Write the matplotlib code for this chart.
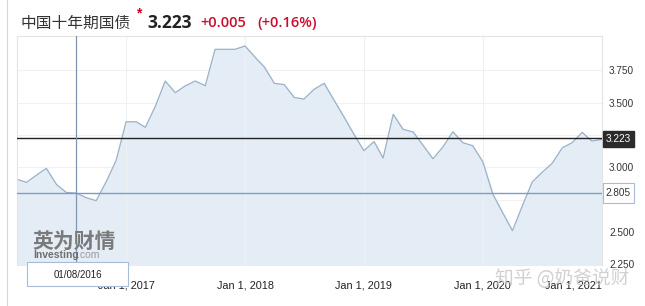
import matplotlib
matplotlib.use('Agg')
import matplotlib.pyplot as plt
import pandas as pd
from matplotlib.patches import Rectangle

# Monthly China 10Y government bond yield (Feb 2016 - Jan 2021)
start_month = '2016-02-01'
yields = [2.907, 2.884, 2.94, 2.992, 2.868, 2.806, 2.801, 2.765, 2.742, 2.89,
          3.052, 3.352, 3.352, 3.309, 3.474, 3.667, 3.577, 3.629, 3.667, 3.631,
          3.912, 3.912, 3.912, 3.938, 3.851, 3.776, 3.649, 3.640, 3.540, 3.528,
          3.603, 3.649, 3.520, 3.389, 3.257, 3.128, 3.199, 3.072, 3.410, 3.294,
          3.273, 3.172, 3.066, 3.159, 3.275, 3.190, 3.167, 3.043, 2.791, 2.654,
          2.510, 2.700, 2.888, 2.961, 3.031, 3.151, 3.190, 3.270, 3.203, 3.216]
tick_years = [2017, 2018, 2019, 2020, 2021]
y_ticks = [2.25, 2.5, 2.75, 3.0, 3.25, 3.5, 3.75]
y_labels = ['2.250', '2.500', '', '3.000', '', '3.500', '3.750']
last_value = 3.223
last_change = '+0.005'
last_pct = '(+0.16%)'
cross_value = 2.805
cross_date = '2016-08-01'
cross_label = '01/08/2016'

W, H = 645, 306


def px(x, y):
    return x / W, 1 - y / H


dates = pd.date_range(start_month, periods=len(yields), freq='MS')

fig = plt.figure(figsize=(W / 100, H / 100), dpi=100)
fig.patch.set_facecolor('white')
ax = fig.add_axes([17 / W, 1 - 265 / H, (602 - 17) / W, (265 - 36) / H])

ymin, ymax = 2.245, 4.015
ax.fill_between(dates, yields, ymin, color='#e4edf6', zorder=1)
ax.plot(dates, yields, color='#9cb2c8', lw=0.9, zorder=2)
ax.set_xlim(dates[0], dates[-1])
ax.set_ylim(ymin, ymax)

# grid
for yt in y_ticks:
    ax.axhline(yt, color='#f1f1f1', lw=0.8, zorder=0.5)
for yr in tick_years[:-1]:
    ax.axvline(pd.Timestamp(f'{yr}-01-01'), color='#eef1f4', lw=0.8, zorder=1.5)

# axes
ax.yaxis.tick_right()
ax.set_yticks(y_ticks)
ax.set_yticklabels(y_labels)
ax.set_xticks([pd.Timestamp(f'{yr}-01-01') for yr in tick_years])
ax.set_xticklabels([f'Jan 1, {yr}' for yr in tick_years])
ax.tick_params(axis='y', length=0, pad=5, labelsize=7.2, labelcolor='#333333')
ax.tick_params(axis='x', length=0, pad=11, labelsize=7.8, labelcolor='#222222')
for lab in ax.get_yticklabels() + ax.get_xticklabels():
    lab.set_fontfamily('Liberation Sans')
ax.get_xticklabels()[-1].set_ha('right')
for side in ['top', 'right', 'left']:
    ax.spines[side].set_color('#e4e4e4')
    ax.spines[side].set_linewidth(0.8)
ax.spines['bottom'].set_visible(False)

# last value line and crosshair
ax.axhline(last_value, color='#222222', lw=1.0, zorder=3)
ax.axhline(cross_value, color='#7f9cc4', lw=1.0, zorder=3)
ax.axvline(pd.Timestamp(cross_date), color='#7f96b2', lw=0.9, zorder=3)

# right side value boxes
fig.patches.append(Rectangle(px(603, 147), 31 / W, 16 / H, transform=fig.transFigure,
                             facecolor='#2b2b2b', edgecolor='#2b2b2b', zorder=5))
fig.text(*px(618.5, 139.3), f'{last_value:.3f}', color='white', fontsize=7.2,
         ha='center', va='center', family='Liberation Sans', zorder=6)
fig.patches.append(Rectangle(px(603, 203), 31 / W, 20 / H, transform=fig.transFigure,
                             facecolor='white', edgecolor='#a9bcd6', lw=0.8, zorder=5))
fig.text(*px(618.5, 193.5), f'{cross_value:.3f}', color='#333333', fontsize=7.2,
         ha='center', va='center', family='Liberation Sans', zorder=6)

# date box of crosshair
fig.patches.append(Rectangle(px(27, 286), 101 / W, 24 / H, transform=fig.transFigure,
                             facecolor='white', edgecolor='#a9bcd6', lw=0.8, zorder=5))
fig.text(*px(77.5, 275), cross_label, color='#222222', fontsize=7,
         ha='center', va='center', family='Liberation Sans', zorder=6)

# header
fig.text(*px(20, 23), '中国十年期国债', fontsize=11.3, color='#333333',
         family=['Noto Sans CJK SC', 'DejaVu Sans'], va='center')
fig.text(*px(139, 13), '*', fontsize=10, color='#d0021b', fontweight='bold',
         ha='center', va='center', family='Liberation Sans')
fig.text(*px(147, 23), f'{last_value:.3f}', fontsize=12.5, color='#222222',
         fontweight='bold', family='Open Sans', va='center')
fig.text(*px(200, 23), last_change, fontsize=10.5, color='#c8102e',
         fontweight='semibold', family='Open Sans', va='center')
fig.text(*px(257, 23), last_pct, fontsize=10.5, color='#c8102e',
         fontweight='semibold', family='Open Sans', va='center')

# watermarks
fig.text(*px(32, 241), '英为财情', fontsize=15, color='#7a7a7a', fontweight='bold',
         family=['Noto Sans CJK SC', 'DejaVu Sans'], va='center', zorder=4)
fig.text(*px(33, 255), 'Investing', fontsize=7.5, color='#6e6e6e', fontweight='bold',
         family='Liberation Sans', va='center', zorder=4)
fig.text(*px(77, 255), '.com', fontsize=7.5, color='#9a9a9a',
         family='Liberation Sans', va='center', zorder=4)
fig.text(*px(495, 279), '知乎 @奶爸说财', fontsize=13.5, color='#c9c9c9', alpha=0.85,
         family=['Noto Sans CJK SC', 'DejaVu Sans'], va='center', zorder=7)

# container border on the left
fig.add_artist(plt.Line2D([6.5 / W, 6.5 / W], [0, 1], transform=fig.transFigure,
                          color='#d8d8d8', lw=0.8))

fig.savefig('out.png', dpi=100)
